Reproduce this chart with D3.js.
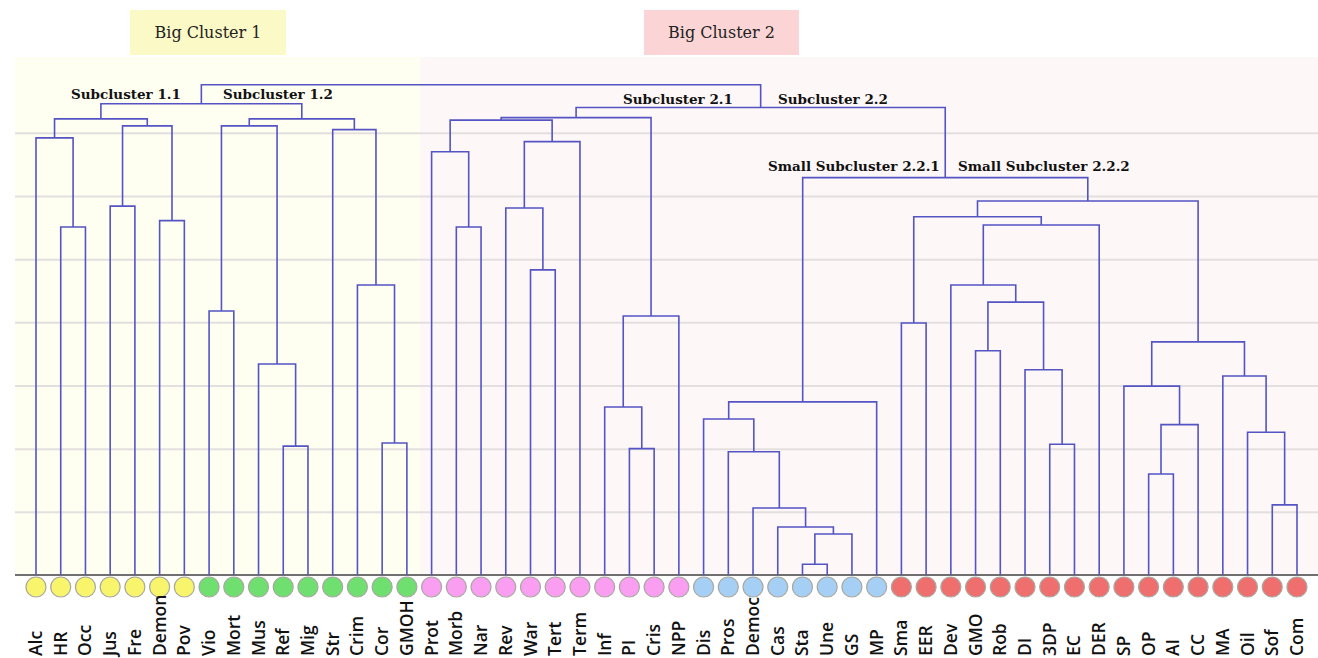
<!DOCTYPE html>
<html><head><meta charset="utf-8">
<script src="https://cdn.jsdelivr.net/npm/d3@7/dist/d3.min.js"></script>
<style>body{margin:0;background:#fff}</style>
</head><body>
<svg id="chart" width="1318" height="658"></svg>
<script>
// ---------- DATA ----------
const leaves = ["Alc","HR","Occ","Jus","Fre","Demon","Pov",
  "Vio","Mort","Mus","Ref","Mig","Str","Crim","Cor","GMOH",
  "Prot","Morb","Nar","Rev","War","Tert","Term","Inf","PI","Cris","NPP",
  "Dis","Pros","Democ","Cas","Sta","Une","GS","MP",
  "Sma","EER","Dev","GMO","Rob","DI","3DP","EC","DER","SP","OP","AI","CC","MA","Oil","Sof","Com"];
const leafGroups = [
  "1.1","1.1","1.1","1.1","1.1","1.1","1.1",
  "1.2","1.2","1.2","1.2","1.2","1.2","1.2","1.2","1.2",
  "2.1","2.1","2.1","2.1","2.1","2.1","2.1","2.1","2.1","2.1","2.1",
  "2.2.1","2.2.1","2.2.1","2.2.1","2.2.1","2.2.1","2.2.1","2.2.1",
  "2.2.2","2.2.2","2.2.2","2.2.2","2.2.2","2.2.2","2.2.2","2.2.2","2.2.2","2.2.2","2.2.2","2.2.2","2.2.2","2.2.2","2.2.2","2.2.2","2.2.2"];
// merges: [id, childA, childB, height]
const merges = [
  ["c1","HR","Occ",5.51],["c2","Alc","c1",6.92],["c3","Jus","Fre",5.84],["c4","Demon","Pov",5.61],
  ["c5","c3","c4",7.11],["c6","c2","c5",7.22],
  ["c7","Vio","Mort",4.18],["c8","Ref","Mig",2.04],["c9","Mus","c8",3.34],["c10","c7","c9",7.11],
  ["c11","Cor","GMOH",2.09],["c12","Crim","c11",4.59],["c13","Str","c12",7.05],["c14","c10","c13",7.22],
  ["c15","c6","c14",7.46],
  ["c16","Morb","Nar",5.51],["c17","Prot","c16",6.70],["c18","War","Tert",4.83],["c19","Rev","c18",5.81],
  ["c20","c19","Term",6.86],["c21","c17","c20",7.20],["c22","PI","Cris",2.00],["c23","Inf","c22",2.66],
  ["c24","c23","NPP",4.10],["c25","c21","c24",7.24],
  ["c26","Sta","Une",0.17],["c27","c26","GS",0.65],["c28","Cas","c27",0.76],["c29","Democ","c28",1.06],
  ["c30","Pros","c29",1.95],["c31","Dis","c30",2.47],["c32","c31","MP",2.74],
  ["c33","Sma","EER",3.99],["c34","GMO","Rob",3.55],["c35","3DP","EC",2.07],["c36","DI","c35",3.25],
  ["c37","c34","c36",4.32],["c38","Dev","c37",4.59],["c39","c38","DER",5.54],["c40","c33","c39",5.67],
  ["c41","OP","AI",1.60],["c42","c41","CC",2.38],["c43","SP","c42",2.99],["c44","Sof","Com",1.11],
  ["c45","Oil","c44",2.26],["c46","MA","c45",3.15],["c47","c43","c46",3.69],["c48","c40","c47",5.92],
  ["c49","c32","c48",6.29],["c50","c25","c49",7.40],["c51","c15","c50",7.76]
];
const gridTicks = [1,2,3,4,5,6,7];
const bigClusters = ["Big Cluster 1","Big Cluster 2"];
const subclusterLabels = ["Subcluster 1.1","Subcluster 1.2","Subcluster 2.1","Subcluster 2.2","Small Subcluster 2.2.1","Small Subcluster 2.2.2"];

// ---------- STYLE / LAYOUT ----------
const groupColor = {"1.1":"#f8f56c","1.2":"#6fe06f","2.1":"#f99ef0","2.2.1":"#a6cff5","2.2.2":"#ef6f6f"};
const W = 1318, H = 658;
const plotLeft = 15, plotRight = 1318, baseY = 575, topY = 57, splitX = 420;
const lineColor = "#5454c4";

const svg = d3.select("#chart");
const x = d3.scalePoint().domain(leaves).range([36, 1297]);
const y = d3.scaleLinear().domain([0, 8.2]).range([baseY, topY]);

// panels
svg.append("rect").attr("x", plotLeft).attr("y", topY).attr("width", splitX - plotLeft).attr("height", baseY - topY).attr("fill", "#fefef1");
svg.append("rect").attr("x", splitX).attr("y", topY).attr("width", plotRight - splitX).attr("height", baseY - topY).attr("fill", "#fdf7f7");

// gridlines via axis
const grid = svg.append("g").attr("transform", `translate(${plotLeft},0)`)
  .call(d3.axisLeft(y).tickValues(gridTicks).tickSize(-(plotRight - plotLeft)).tickFormat(""));
grid.select(".domain").remove();
grid.selectAll("line").attr("stroke", "#e4dfdf").attr("stroke-width", 2);

// baseline
svg.append("line").attr("x1", plotLeft).attr("x2", plotRight).attr("y1", baseY).attr("y2", baseY)
  .attr("stroke", "#707070").attr("stroke-width", 2);

// build tree positions
const pos = {};
leaves.forEach(l => pos[l] = {x: x(l), h: 0});
merges.forEach(([id, a, b, h]) => { pos[id] = {x: (pos[a].x + pos[b].x) / 2, h: h}; });

// links
svg.append("g").selectAll("path").data(merges).join("path")
  .attr("fill", "none").attr("stroke", lineColor).attr("stroke-width", 1.6)
  .attr("d", ([id, a, b, h]) => {
    const A = pos[a], B = pos[b];
    return `M${A.x},${y(A.h)}V${y(h)}H${B.x}V${y(B.h)}`;
  });

// circles
svg.append("g").selectAll("circle").data(leaves).join("circle")
  .attr("cx", d => x(d)).attr("cy", 587).attr("r", 10)
  .attr("fill", (d, i) => groupColor[leafGroups[i]])
  .attr("stroke", "#a8a8a0").attr("stroke-width", 1.2);

// leaf labels
svg.append("g").selectAll("text").data(leaves).join("text")
  .attr("transform", d => `translate(${x(d) + 6},656) rotate(-90)`)
  .attr("text-anchor", "start")
  .attr("font-family", "'Open Sans', sans-serif").attr("font-weight", 600).attr("font-size", 17.5)
  .attr("fill", "#111").text(d => d);

// big cluster boxes
const boxes = [{x: 130, w: 156, fill: "#fbf9c6"}, {x: 644, w: 155, fill: "#fbd5d5"}];
bigClusters.forEach((t, i) => {
  const b = boxes[i];
  svg.append("rect").attr("x", b.x).attr("y", 10).attr("width", b.w).attr("height", 45).attr("fill", b.fill);
  svg.append("text").attr("x", b.x + b.w / 2).attr("y", 38).attr("text-anchor", "middle")
    .attr("font-family", "'DejaVu Serif', serif").attr("font-size", 16).attr("fill", "#222").text(t);
});

// subcluster labels
const subPos = [[71, 99], [223, 99], [623, 104], [778, 104], [768, 171], [958, 171]];
subclusterLabels.forEach((t, i) => {
  svg.append("text").attr("x", subPos[i][0]).attr("y", subPos[i][1])
    .attr("font-family", "'DejaVu Serif', serif").attr("font-size", 13.5).attr("font-weight", 600)
    .attr("fill", "#111").text(t);
});
</script>
</body></html>
